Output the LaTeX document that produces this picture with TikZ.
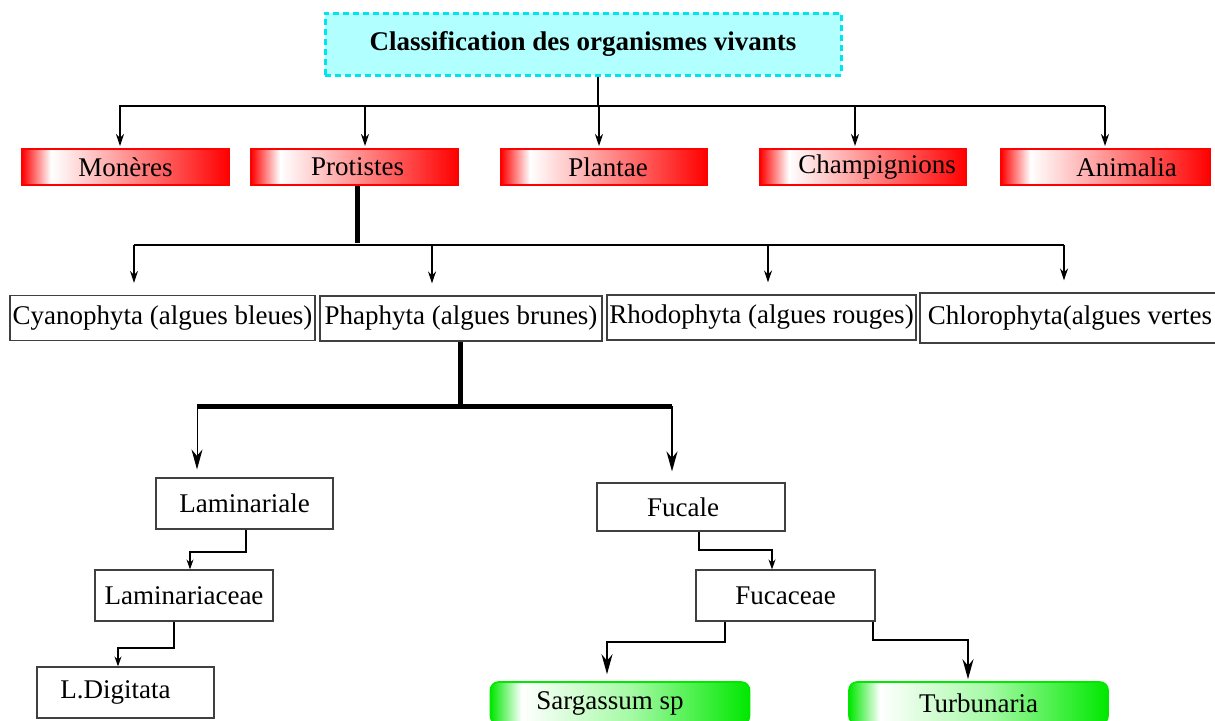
\documentclass[tikz,border=0pt]{standalone}
\usepackage{fontspec}
\setmainfont{Liberation Serif}
\usetikzlibrary{arrows.meta}

\definecolor{titlefill}{RGB}{178,255,255}
\definecolor{titleedge}{RGB}{0,228,240}
\definecolor{boxred}{RGB}{255,0,0}
\definecolor{boxgreen}{RGB}{0,232,0}
\definecolor{palegreen}{RGB}{165,250,165}

\pgfdeclarehorizontalshading{redfade}{100bp}{color(0bp)=(boxred); color(25bp)=(boxred);
  color(32bp)=(white); color(75bp)=(boxred); color(100bp)=(boxred)}
\pgfdeclarehorizontalshading{greenfade}{100bp}{color(0bp)=(boxgreen); color(25bp)=(boxgreen);
  color(31bp)=(white); color(52bp)=(palegreen); color(75bp)=(boxgreen); color(100bp)=(boxgreen)}

\begin{document}
\begin{tikzpicture}[
  x=0.5pt, y=-0.5pt, line join=miter,
  font=\fontsize{13.5}{16}\selectfont,
  arr/.style={-{Stealth[length=6pt,width=4pt]}, line width=0.75pt},
  elbow/.style={-{Stealth[length=5pt,width=3.5pt]}, line width=0.6pt},
  bigarr/.style={-{Stealth[length=10pt,width=5.5pt]}},
  trunk/.style={line width=2.5pt},
  titlebox/.style={draw=titleedge, fill=titlefill, line width=1.5pt,
                   dash pattern=on 3pt off 2pt, minimum width=258pt,
                   minimum height=31pt, font=\fontsize{13.5}{16}\selectfont\bfseries},
  kingdom/.style={shading=redfade, draw=boxred, line width=1pt,
                  minimum width=#1, minimum height=18pt, inner sep=0pt},
  taxon/.style={draw=black!75, line width=0.6pt, fill=white, inner xsep=1pt,
                minimum width=#1},
  genus/.style={shading=greenfade, draw=boxgreen, line width=0.8pt,
                rounded corners=4pt, minimum width=129.5pt, minimum height=21pt}
]
  \clip (0,0) rectangle (1215,720);

  % ── Title ──────────────────────────────────────────────────────────────────
  \node[titlebox] (title) at (583,44) {Classification des organismes vivants};

  % ── Kingdoms ───────────────────────────────────────────────────────────────
  \node[kingdom=103.5pt] (mon) at (125.5,167) {Monères};
  \node[kingdom=103.5pt] (pro) at (354.5,167) {\hspace*{3pt}Protistes};
  \node[kingdom=103pt]   (pla) at (604,167)   {\hspace*{4pt}Plantae};
  \node[kingdom=103pt]   (cha) at (863,167)   {\hspace*{14pt}Champignions};
  \node[kingdom=104.5pt] (ani) at (1105.5,167) {\hspace*{21pt}Animalia};

  \coordinate (t0) at (598,106);
  \draw[line width=0.75pt] (t0 |- title.south) -- (t0);
  \coordinate (bar1w) at (119,106);
  \coordinate (bar1e) at (1105,106);
  \draw[line width=0.75pt] (bar1w) -- (bar1e);
  \foreach \x/\n in {120/mon,365/pro,599/pla,855/cha,1105/ani}{
    \coordinate (a-\n) at (\x,106);
    \draw[arr, shorten >=1pt] (a-\n) -- (a-\n |- \n.north);
  }

  % ── Divisions of Protistes ─────────────────────────────────────────────────
  \node[taxon=152.5pt, minimum height=22.5pt] (cya) at (162.5,318)
      {Cyanophyta (algues bleues)};
  \node[taxon=141pt, minimum height=22.5pt]   (pha) at (461,318.5)
      {Phaphyta (algues brunes)};
  \node[taxon=154.5pt, minimum height=22.5pt] (rho) at (761.5,317.5)
      {Rhodophyta (algues rouges)};
  \node[taxon=150pt, minimum height=25pt]     (chl) at (1070,318)
      {Chlorophyta(algues vertes};

  \coordinate (p0) at (357,243);
  \draw[trunk] (p0 |- pro.south) -- (p0);
  \coordinate (bar2w) at (134,245);
  \coordinate (bar2e) at (1064,245);
  \draw[line width=0.75pt] (bar2w) -- (bar2e);
  \foreach \x/\n in {134/cya,432/pha,768/rho,1064/chl}{
    \coordinate (b-\n) at (\x,245);
    \draw[arr, shorten >=6pt] (b-\n) -- (b-\n |- \n.north);
  }

  % ── Orders, families, genera ───────────────────────────────────────────────
  \node[taxon=88.5pt, minimum height=25.5pt] (lam) at (244.5,503.5) {Laminariale};
  \node[taxon=89pt, minimum height=25.5pt]   (lac) at (184,595.5)   {Laminariaceae};
  \node[taxon=88.5pt, minimum height=25.5pt] (ldi) at (125.5,692.5) {L.Digitata\hspace*{10pt}};
  \node[taxon=94pt, minimum height=24pt]     (fuc) at (691,507)     {Fucale\hspace*{8pt}};
  \node[taxon=89.5pt, minimum height=25.5pt] (fac) at (785.5,595.5) {Fucaceae};
  \node[genus] (sar) at (620,703)   {Sargassum sp\hspace*{10pt}};
  \node[genus] (tur) at (978.5,703) {Turbunaria};

  % Phaphyta trunk and split
  \coordinate (p1) at (460,406);
  \draw[trunk] (p1 |- pha.south) -- (p1);
  \coordinate (bar3w) at (197,406);
  \coordinate (bar3e) at (672,406);
  \draw[trunk] (bar3w) -- (bar3e);
  \draw[bigarr, line width=0.5pt, shorten >=4pt] (bar3w) -- (bar3w |- lam.north);
  \draw[bigarr, line width=1pt, shorten >=5.5pt] (bar3e) -- (bar3e |- fuc.north);

  % Laminariale → Laminariaceae → L.Digitata
  \coordinate (l1) at (246,552);
  \coordinate (l2) at (190,552);
  \draw[elbow] (l1 |- lam.south) -- (l1) -- (l2) -- (l2 |- lac.north);
  \coordinate (l3) at (174,648);
  \coordinate (l4) at (118,648);
  \draw[elbow] (l3 |- lac.south) -- (l3) -- (l4) -- (l4 |- ldi.north);

  % Fucale → Fucaceae → genera
  \coordinate (f1) at (699,550);
  \coordinate (f2) at (772,550);
  \draw[elbow] (f1 |- fuc.south) -- (f1) -- (f2) -- (f2 |- fac.north);
  \coordinate (f3) at (725,642);
  \coordinate (f4) at (607,642);
  \draw[bigarr, line width=0.75pt, shorten >=3.5pt] (f3 |- fac.south) -- (f3) -- (f4) -- (f4 |- sar.north);
  \coordinate (f5) at (873,640);
  \coordinate (f6) at (968,640);
  \draw[bigarr, line width=0.75pt, shorten >=1pt] (f5 |- fac.south) -- (f5) -- (f6) -- (f6 |- tur.north);

\end{tikzpicture}
\end{document}
